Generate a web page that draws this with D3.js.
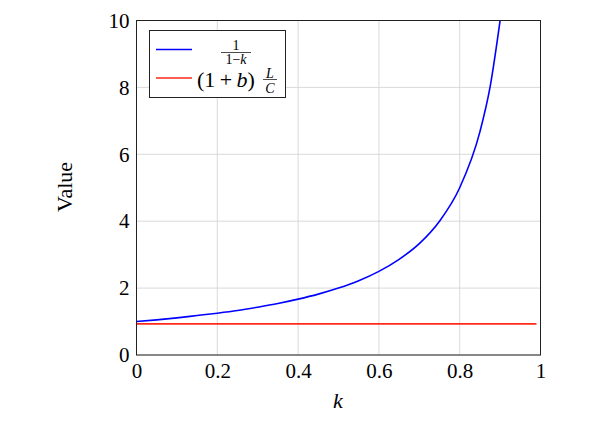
<!DOCTYPE html>
<html>
<head>
<meta charset="utf-8">
<script src="https://cdn.jsdelivr.net/npm/d3@7"></script>
<style>
  body { margin: 0; background: #fff; }
  text { font-family: "Liberation Serif", "DejaVu Serif", serif; fill: #000; }
  .grid line { stroke: #d0d0d0; stroke-width: 0.8; }
</style>
</head>
<body>
<script>
// Values
const blue_k = [0, 0.05, 0.1, 0.15, 0.2, 0.25, 0.3, 0.35, 0.4, 0.45, 0.5, 0.55, 0.6, 0.65, 0.7, 0.75, 0.8, 0.85, 0.875, 0.9];
const blue_v = [1, 1.05, 1.11, 1.18, 1.25, 1.33, 1.43, 1.54, 1.67, 1.82, 2.0, 2.22, 2.5, 2.86, 3.33, 4.0, 5.0, 6.67, 8.0, 10.0];
const red_k = [0, 0.99];
const red_v = [0.93, 0.93];
const x_ticks = [0, 0.2, 0.4, 0.6, 0.8, 1];
const x_tick_labels = ["0", "0.2", "0.4", "0.6", "0.8", "1"];
const y_ticks = [0, 2, 4, 6, 8, 10];
const y_tick_labels = ["0", "2", "4", "6", "8", "10"];

const width = 605;
const height = 425;
const p_left = 136.5, p_right = 540.5, p_top = 20.5, p_bottom = 355;

let svg = d3.select("body").append("svg")
    .attr("width", width)
    .attr("height", height);

let x = d3.scaleLinear().domain([0, 1]).range([p_left, p_right]);
let y = d3.scaleLinear().domain([0, 10]).range([p_bottom, p_top]);

// Grid
let grid = svg.append("g").attr("class", "grid");
x_ticks.map( (t) => {
    grid.append("line")
        .attr("x1", x(t)).attr("x2", x(t))
        .attr("y1", p_top).attr("y2", p_bottom);
});
y_ticks.map( (t) => {
    grid.append("line")
        .attr("x1", p_left).attr("x2", p_right)
        .attr("y1", y(t)).attr("y2", y(t));
});

// Curves
let line = d3.line()
    .x( (d) => x(d[0]) )
    .y( (d) => y(d[1]) )
    .curve(d3.curveMonotoneX);

svg.append("path")
    .datum(blue_k.map( (k, i) => [k, blue_v[i]] ))
    .attr("d", line)
    .attr("fill", "none")
    .attr("stroke", "#0000ff")
    .attr("stroke-width", 1.6);

svg.append("path")
    .datum(red_k.map( (k, i) => [k, red_v[i]] ))
    .attr("d", line)
    .attr("fill", "none")
    .attr("stroke", "#ff2a1a")
    .attr("stroke-width", 1.6);

// Axes with tick labels
let x_axis = d3.axisBottom(x)
    .tickValues(x_ticks)
    .tickFormat( (d, i) => x_tick_labels[i] )
    .tickSize(0)
    .tickPadding(8);
let gx = svg.append("g")
    .attr("transform", `translate(0, ${p_bottom})`)
    .call(x_axis);
gx.select(".domain").remove();
gx.selectAll("text").attr("font-size", 21).attr("font-family", "Liberation Serif");

let y_axis = d3.axisLeft(y)
    .tickValues(y_ticks)
    .tickFormat( (d, i) => y_tick_labels[i] )
    .tickSize(0)
    .tickPadding(7);
let gy = svg.append("g")
    .attr("transform", `translate(${p_left}, 0)`)
    .call(y_axis);
gy.select(".domain").remove();
gy.selectAll("text").attr("font-size", 21).attr("font-family", "Liberation Serif");

// Frame
svg.append("rect")
    .attr("x", p_left).attr("y", p_top)
    .attr("width", p_right - p_left).attr("height", p_bottom - p_top)
    .attr("fill", "none")
    .attr("stroke", "#222")
    .attr("stroke-width", 1);

// Axis titles
svg.append("text")
    .attr("x", 338).attr("y", 408)
    .attr("text-anchor", "middle")
    .attr("font-size", 22)
    .attr("font-style", "italic")
    .text("k");

svg.append("text")
    .attr("transform", `translate(72, 187) rotate(-90)`)
    .attr("text-anchor", "middle")
    .attr("font-size", 22)
    .text("Value");

// Legend
let legend = svg.append("g");
legend.append("rect")
    .attr("x", 149.5).attr("y", 30.5)
    .attr("width", 136).attr("height", 67)
    .attr("fill", "#fff")
    .attr("stroke", "#222")
    .attr("stroke-width", 1);

legend.append("line")
    .attr("x1", 156).attr("x2", 192)
    .attr("y1", 49.5).attr("y2", 49.5)
    .attr("stroke", "#0000ff").attr("stroke-width", 1.6);
legend.append("line")
    .attr("x1", 156).attr("x2", 192)
    .attr("y1", 78).attr("y2", 78)
    .attr("stroke", "#ff2a1a").attr("stroke-width", 1.6);

// 1 / (1 - k)
legend.append("text")
    .attr("x", 236).attr("y", 49.5)
    .attr("text-anchor", "middle")
    .attr("font-size", 14)
    .text("1");
legend.append("line")
    .attr("x1", 221).attr("x2", 251)
    .attr("y1", 52.5).attr("y2", 52.5)
    .attr("stroke", "#000").attr("stroke-width", 0.7);
let den = legend.append("text")
    .attr("x", 236).attr("y", 63.5)
    .attr("text-anchor", "middle")
    .attr("font-size", 14);
den.append("tspan").text("1\u2212");
den.append("tspan").attr("font-style", "italic").text("k");

// (1 + b) L / C
let lab = legend.append("text")
    .attr("x", 197).attr("y", 87)
    .attr("font-size", 22);
lab.append("tspan").text("(1\u2009+\u2009");
lab.append("tspan").attr("font-style", "italic").text("b");
lab.append("tspan").text(")");

legend.append("text")
    .attr("x", 270).attr("y", 77.5)
    .attr("text-anchor", "middle")
    .attr("font-size", 14)
    .attr("font-style", "italic")
    .text("L");
legend.append("line")
    .attr("x1", 263).attr("x2", 277)
    .attr("y1", 79.5).attr("y2", 79.5)
    .attr("stroke", "#000").attr("stroke-width", 0.7);
legend.append("text")
    .attr("x", 270).attr("y", 92.5)
    .attr("text-anchor", "middle")
    .attr("font-size", 14)
    .attr("font-style", "italic")
    .text("C");
</script>
</body>
</html>
